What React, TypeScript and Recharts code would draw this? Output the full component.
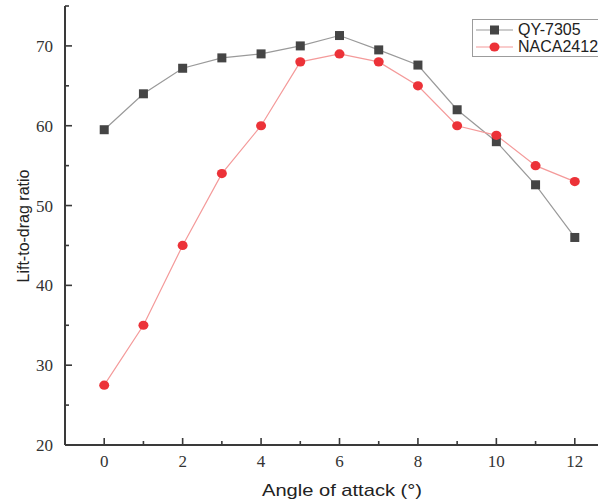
import React from 'react';
import { LineChart, Line, XAxis, YAxis, Legend } from 'recharts';

const angles = [0, 1, 2, 3, 4, 5, 6, 7, 8, 9, 10, 11, 12];
const qy7305 = [59.5, 64, 67.2, 68.5, 69, 70, 71.3, 69.5, 67.6, 62, 58, 52.6, 46];
const naca2412 = [27.5, 35, 45, 54, 60, 68, 69, 68, 65, 60, 58.8, 55, 53];
const seriesNames = ['QY-7305', 'NACA2412'];
const xTicks = [0, 1, 2, 3, 4, 5, 6, 7, 8, 9, 10, 11, 12];
const yTicks = [20, 25, 30, 35, 40, 45, 50, 55, 60, 65, 70, 75];

const data = angles.map((a, i) => ({ angle: a, qy: qy7305[i], naca: naca2412[i] }));

const AXIS = '#3a3a3a';
const QY_LINE = '#9a9a9a';
const QY_DOT = '#454545';
const NACA_LINE = '#f49a9a';
const NACA_DOT = '#ec3238';

const X_MARGIN = 10;
const Y_MARGIN = 12;

const XTick = (props: any) => {
  const { x, y, payload } = props;
  const v = payload.value;
  const major = v % 2 === 0;
  const axisY = y - X_MARGIN;
  return (
    <g>
      <line x1={x} x2={x} y1={axisY} y2={axisY - (major ? 7 : 4)} stroke={AXIS} strokeWidth={1.6} />
      {major && (
        <text x={x} y={y} dy="0.71em" textAnchor="middle" fontFamily="'Liberation Serif', 'Times New Roman', serif" fontSize={17} fill="#333">
          {v}
        </text>
      )}
    </g>
  );
};

const YTick = (props: any) => {
  const { x, y, payload } = props;
  const v = payload.value;
  const major = v % 10 === 0;
  const axisX = x + Y_MARGIN;
  return (
    <g>
      <line x1={axisX} x2={axisX + (major ? 7 : 4)} y1={y} y2={y} stroke={AXIS} strokeWidth={1.6} />
      {major && (
        <text x={x} y={y} dy="0.36em" textAnchor="end" fontFamily="'Liberation Serif', 'Times New Roman', serif" fontSize={17} fill="#333">
          {v}
        </text>
      )}
    </g>
  );
};

const SquareDot = (props: any) => {
  const { cx, cy } = props;
  if (cx == null || cy == null) return null;
  return <rect x={cx - 4.5} y={cy - 4.5} width={9} height={9} fill={QY_DOT} />;
};

const CircleDot = (props: any) => {
  const { cx, cy } = props;
  if (cx == null || cy == null) return null;
  return <ellipse cx={cx} cy={cy} rx={5} ry={4.6} fill={NACA_DOT} />;
};

const renderLegend = () => (
  <div
    style={{
      border: '1.5px solid #9c9c9c',
      background: '#fff',
      padding: '1px 30px 1px 2px',
      fontFamily: "'Liberation Sans', Arial, sans-serif",
      fontSize: 16,
      color: '#222',
      lineHeight: '17px',
      width: 160,
      boxSizing: 'border-box',
    }}
  >
    {seriesNames.map((name, i) => (
      <div key={name} style={{ display: 'flex', alignItems: 'center', height: 17 }}>
        <svg width={40} height={16} style={{ marginRight: 3 }}>
          <line x1={1} x2={38} y1={8} y2={8} stroke={i === 0 ? QY_LINE : NACA_LINE} strokeWidth={1.2} />
          {i === 0 ? (
            <rect x={15} y={3.5} width={9} height={9} fill={QY_DOT} />
          ) : (
            <ellipse cx={19.5} cy={8} rx={5} ry={4.6} fill={NACA_DOT} />
          )}
        </svg>
        <span>{name}</span>
      </div>
    ))}
  </div>
);

export default function App() {
  return (
    <div style={{ position: 'absolute', left: 0, top: 0, width: 598, height: 501, overflow: 'hidden', background: '#fff' }}>
      <LineChart width={620} height={501} data={data} margin={{ top: 6, right: 6, bottom: 0, left: 0 }}>
        <XAxis
          dataKey="angle"
          type="number"
          domain={[-1, 13]}
          ticks={xTicks}
          interval={0}
          height={56}
          tickSize={0}
          tickMargin={X_MARGIN}
          tick={<XTick />}
          axisLine={{ stroke: AXIS, strokeWidth: 2 }}
          tickLine={false}
          label={{
            content: () => (
              <text x={342} y={496} textAnchor="middle" fontFamily="'Liberation Sans', Arial, sans-serif" fontSize={17} fill="#222" textLength={160} lengthAdjust="spacingAndGlyphs">
                Angle of attack (°)
              </text>
            ),
          }}
        />
        <YAxis
          type="number"
          domain={[20, 75]}
          ticks={yTicks}
          interval={0}
          width={65}
          tickSize={0}
          tickMargin={Y_MARGIN}
          tick={<YTick />}
          axisLine={{ stroke: AXIS, strokeWidth: 2 }}
          tickLine={false}
          label={{
            content: () => (
              <text x={29} y={226} transform="rotate(-90 29 226)" textAnchor="middle" fontFamily="'Liberation Sans', Arial, sans-serif" fontSize={16} fill="#222">
                Lift-to-drag ratio
              </text>
            ),
          }}
        />
        <Legend
          content={renderLegend}
          layout="horizontal"
          verticalAlign="middle"
          align="center"
          wrapperStyle={{ position: 'absolute', left: 472, top: 19, width: 'auto', height: 'auto' }}
        />
        <Line
          name={seriesNames[0]}
          dataKey="qy"
          stroke={QY_LINE}
          strokeWidth={1.2}
          dot={<SquareDot />}
          activeDot={false}
          isAnimationActive={false}
        />
        <Line
          name={seriesNames[1]}
          dataKey="naca"
          stroke={NACA_LINE}
          strokeWidth={1.2}
          dot={<CircleDot />}
          activeDot={false}
          isAnimationActive={false}
        />
      </LineChart>
    </div>
  );
}
